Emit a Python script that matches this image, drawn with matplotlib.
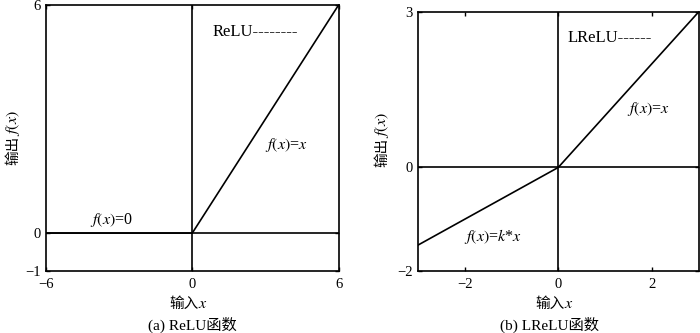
import numpy as np
import matplotlib
matplotlib.use("Agg")
import matplotlib.pyplot as plt

plt.rcParams['font.family'] = ['Liberation Serif', 'Noto Sans CJK SC']
plt.rcParams['mathtext.fontset'] = 'stix'
plt.rcParams['font.size'] = 10.5

# Data
relu_x = [-6, 0, 6]
relu_y = [0, 0, 6]
relu_xticks = [-6, 0, 6]
relu_yticks = [-1, 0, 6]

lrelu_k = 0.5
lrelu_x = [-3, 0, 3]
lrelu_y = [-1.5, 0, 3]
lrelu_xticks = [-2, 0, 2]
lrelu_yticks = [-2, 0, 3]

fig = plt.figure(figsize=(7.0, 3.33), dpi=100)

cjk = ['Noto Sans CJK SC', 'Liberation Serif']
fs_lab = 10.5


def xlabel(xc_px, yc_px):
    fx = xc_px / 700.0
    fy = 1 - yc_px / 333.0
    fig.text(fx + 0.012, fy, '输入', ha='right', va='center', family=cjk, fontsize=fs_lab)
    fig.text(fx + 0.012, fy, r'$x$', ha='left', va='center', fontsize=fs_lab + 1)


def ylabel(xc_px, yc_px):
    fx = xc_px / 700.0
    fy = 1 - yc_px / 333.0
    fig.text(fx, fy - 0.035, '输出', ha='right', va='center', rotation=90,
             rotation_mode='anchor', family=cjk, fontsize=fs_lab)
    fig.text(fx, fy - 0.035, r'$f(x)$', ha='left', va='center', rotation=90,
             rotation_mode='anchor', fontsize=fs_lab + 1)


fs_txt = 11.5

# Panel (a)
ax1 = fig.add_axes([0.0657, 0.186, 0.418, 0.799])
ax1.plot(relu_x, relu_y, color='black', lw=1.2)
ax1.axhline(0, color='black', lw=1.2)
ax1.axvline(0, color='black', lw=1.2)
ax1.set_xlim(-6, 6)
ax1.set_ylim(-1, 6)
ax1.set_xticks(relu_xticks)
ax1.set_yticks(relu_yticks)
ax1.set_xticklabels(['\u22126', '0', '6'])
ax1.set_yticklabels(['\u22121', '0', '6'])
ax1.tick_params(direction='in', length=3, width=1, top=True, right=True)
ax1.tick_params(axis='x', pad=5)
ax1.tick_params(axis='y', pad=4)
ax1.text(-3.3, 0.34, r'$f(x)$=0', ha='center', va='center', fontsize=fs_txt)
ax1.text(3.87, 2.32, r'$f(x)$=$x$', ha='center', va='center', fontsize=fs_txt)
ax1.text(0.84, 5.29, 'ReLU--------', ha='left', va='center', fontsize=12)
xlabel(190, 304)
ylabel(13, 124)
fig.text(192 / 700, 1 - 325 / 333, '(a) ReLU函数', ha='center', va='center', family=['Liberation Serif', 'Noto Sans CJK SC'], fontsize=11)

# Panel (b)
ax2 = fig.add_axes([0.597, 0.186, 0.401, 0.778])
ax2.plot(lrelu_x, lrelu_y, color='black', lw=1.2)
ax2.axhline(0, color='black', lw=1.2)
ax2.axvline(0, color='black', lw=1.2)
ax2.set_xlim(-3, 3)
ax2.set_ylim(-2, 3)
ax2.set_xticks(lrelu_xticks)
ax2.set_yticks(lrelu_yticks)
ax2.set_xticklabels(['\u22122', '0', '2'])
ax2.set_yticklabels(['\u22122', '0', '3'])
ax2.tick_params(direction='in', length=3, width=1, top=True, right=True)
ax2.tick_params(axis='x', pad=5)
ax2.tick_params(axis='y', pad=4)
ax2.text(-1.39, -1.33, r'$f(x)$=$k$*$x$', ha='center', va='center', fontsize=fs_txt)
ax2.text(1.92, 1.12, r'$f(x)$=$x$', ha='center', va='center', fontsize=fs_txt)
ax2.text(0.19, 2.49, 'LReLU------', ha='left', va='center', fontsize=12)
xlabel(556, 304)
ylabel(382, 126)
fig.text(549 / 700, 1 - 325 / 333, '(b) LReLU函数', ha='center', va='center', family=['Liberation Serif', 'Noto Sans CJK SC'], fontsize=11)

for ax in (ax1, ax2):
    for s in ax.spines.values():
        s.set_linewidth(1.2)

fig.savefig('out.png', dpi=100)
